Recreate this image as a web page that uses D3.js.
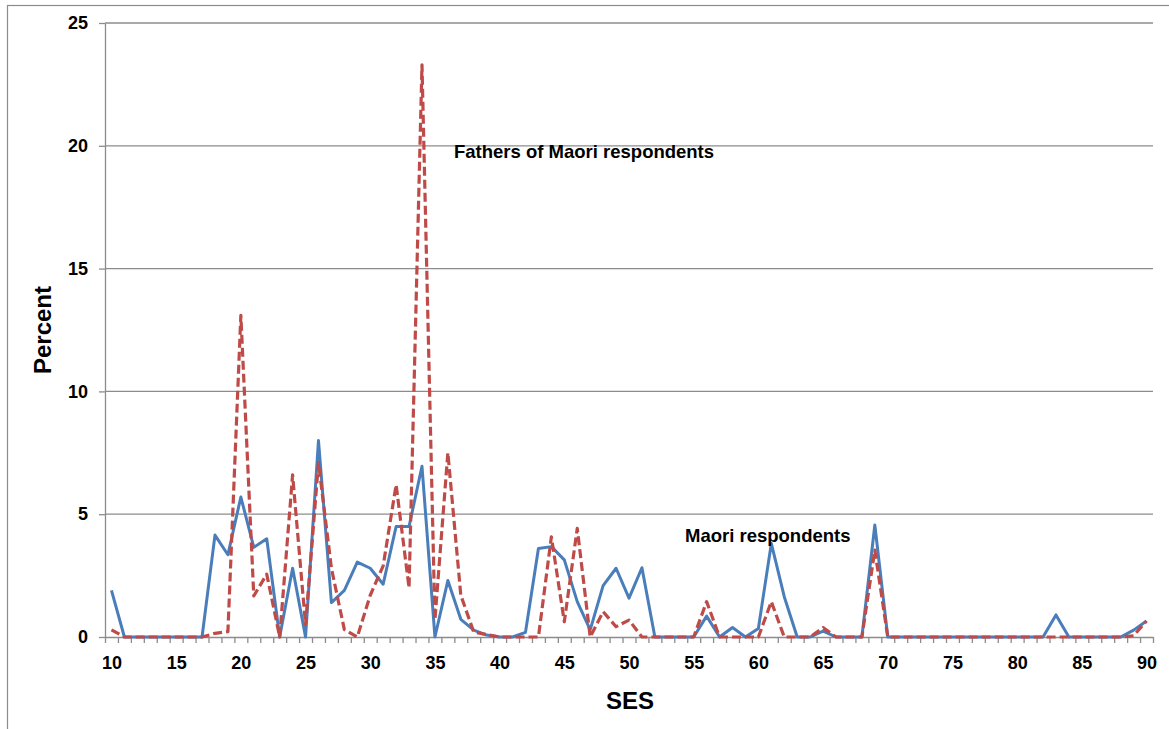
<!DOCTYPE html>
<html>
<head>
<meta charset="utf-8">
<script src="https://cdn.jsdelivr.net/npm/d3@7"></script>
<style>
  body { margin: 0; background: #fff; }
  svg { display: block; font-family: Arial, "Liberation Sans", sans-serif; }
  .grid line { stroke: #8c8c8c; stroke-width: 1.3; }
  .axis path, .axis line { stroke: #8c8c8c; stroke-width: 1.3; }
  .axis text { font-size: 18px; font-weight: bold; fill: #000; }
</style>
</head>
<body>
<svg width="1169" height="729"></svg>
<script>
// SES categories 10..90
var ses = d3.range(10, 91);
var xLabels = [10, 15, 20, 25, 30, 35, 40, 45, 50, 55, 60, 65, 70, 75, 80, 85, 90];
var yTicks = [0, 5, 10, 15, 20, 25];

// Maori respondents (solid blue)
var maori = [
  1.9, 0, 0, 0, 0, 0, 0, 0, 4.15, 3.35,
  5.7, 3.65, 4.0, 0, 2.8, 0, 8.0, 1.4, 1.9, 3.05,
  2.8, 2.15, 4.5, 4.5, 6.95, 0, 2.3, 0.72, 0.28, 0.08,
  0, 0, 0.19, 3.6, 3.68, 3.14, 1.44, 0.29, 2.09, 2.8,
  1.58, 2.82, 0, 0, 0, 0, 0.85, 0, 0.39, 0,
  0.35, 3.81, 1.64, 0, 0, 0.24, 0, 0, 0, 4.56,
  0, 0, 0, 0, 0, 0, 0, 0, 0, 0,
  0, 0, 0, 0.9, 0, 0, 0, 0, 0, 0.28,
  0.65
];

// Fathers of Maori respondents (dashed red)
var fathers = [
  0.29, 0, 0, 0, 0, 0, 0, 0, 0.15, 0.22,
  13.1, 1.67, 2.56, 0, 6.6, 0.5, 7.1, 2.8, 0.3, 0,
  1.7, 2.9, 6.2, 2.0, 23.3, 0.7, 7.5, 1.7, 0.2, 0.1,
  0, 0, 0, 0, 4.08, 0.62, 4.42, 0, 1.03, 0.42,
  0.69, 0, 0, 0, 0, 0, 1.44, 0, 0, 0,
  0, 1.44, 0, 0, 0, 0.38, 0, 0, 0, 3.54,
  0, 0, 0, 0, 0, 0, 0, 0, 0, 0,
  0, 0, 0, 0, 0, 0, 0, 0, 0, 0.05,
  0.65
];

var svg = d3.select("svg");

// outer frame
svg.append("rect")
    .attr("x", 7.5).attr("y", 5.5)
    .attr("width", 1170).attr("height", 730)
    .attr("fill", "none")
    .attr("stroke", "#8c8c8c")
    .attr("stroke-width", 1.2);

var plotLeft = 105, plotRight = 1153, plotTop = 23, plotBottom = 637;

// category axis: points sit between tick marks
var x = d3.scaleLinear()
    .domain([9.5, 90.5])
    .range([plotLeft, plotRight]);

var y = d3.scaleLinear()
    .domain([0, 25])
    .range([plotBottom, plotTop]);

// gridlines
svg.append("g")
    .attr("class", "grid")
  .selectAll("line")
  .data(yTicks.filter(function(d) { return d > 0; }))
  .enter().append("line")
    .attr("x1", plotLeft).attr("x2", plotRight)
    .attr("y1", function(d) { return y(d); })
    .attr("y2", function(d) { return y(d); });

// y axis
svg.append("g")
    .attr("class", "axis")
    .attr("transform", "translate(" + plotLeft + ",0)")
    .call(d3.axisLeft(y).tickValues(yTicks).tickSize(6).tickSizeOuter(0).tickPadding(11));

// x axis tick marks at category boundaries
svg.append("g")
    .attr("class", "axis")
    .attr("transform", "translate(0," + plotBottom + ")")
    .call(d3.axisBottom(x)
        .tickValues(d3.range(9.5, 91, 1))
        .tickSize(6)
        .tickSizeOuter(0)
        .tickFormat(""));

// x axis labels at every 5th category
svg.append("g")
    .attr("class", "axis")
    .attr("transform", "translate(0," + plotBottom + ")")
    .call(d3.axisBottom(x).tickValues(xLabels).tickSize(0).tickPadding(19))
  .select(".domain").remove();

var line = d3.line()
    .x(function(d, i) { return x(ses[i]); })
    .y(function(d) { return y(d); });

svg.append("path")
    .datum(maori)
    .attr("fill", "none")
    .attr("stroke", "#4a7ebb")
    .attr("stroke-width", 3)
    .attr("stroke-linejoin", "round")
    .attr("d", line);

svg.append("path")
    .datum(fathers)
    .attr("fill", "none")
    .attr("stroke", "#be4b48")
    .attr("stroke-width", 3.2)
    .attr("stroke-dasharray", "9,4")
    .attr("stroke-linejoin", "round")
    .attr("d", line);

// labels
svg.append("text")
    .attr("x", 454).attr("y", 158)
    .attr("font-size", 18.5).attr("font-weight", "bold")
    .text("Fathers of Maori respondents");

svg.append("text")
    .attr("x", 685).attr("y", 542)
    .attr("font-size", 18.5).attr("font-weight", "bold")
    .text("Maori respondents");

svg.append("text")
    .attr("x", 630).attr("y", 709)
    .attr("text-anchor", "middle")
    .attr("font-size", 24).attr("font-weight", "bold")
    .text("SES");

svg.append("text")
    .attr("transform", "translate(51,330) rotate(-90)")
    .attr("text-anchor", "middle")
    .attr("font-size", 24).attr("font-weight", "bold")
    .text("Percent");
</script>
</body>
</html>
